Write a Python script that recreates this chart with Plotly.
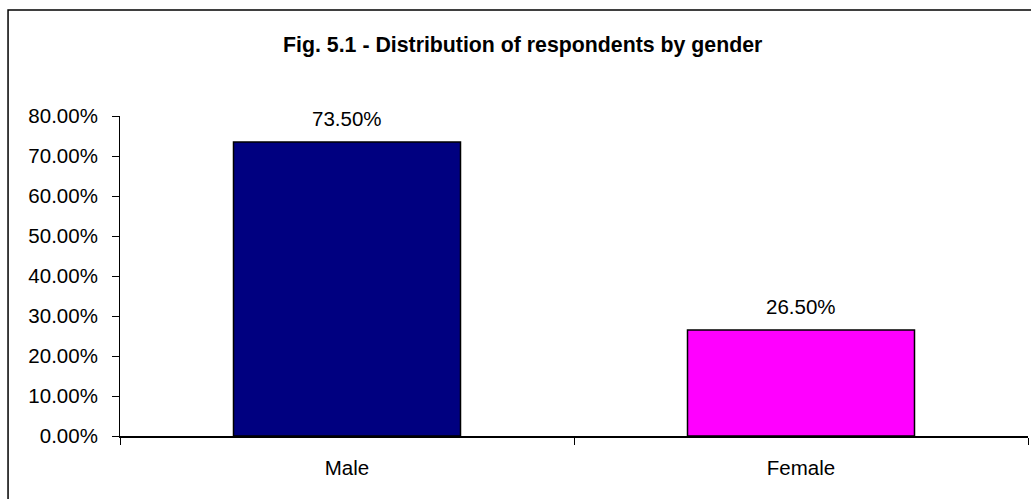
import plotly.graph_objects as go

# Respondent shares by gender
categories = ["Male", "Female"]
shares = [0.735, 0.265]
bar_colors = ["#000080", "#FF00FF"]
y_ticks = [0.0, 0.1, 0.2, 0.3, 0.4, 0.5, 0.6, 0.7, 0.8]

FONT = "Liberation Sans, Arial, sans-serif"

fig = go.Figure(
    go.Bar(
        x=categories,
        y=shares,
        marker=dict(color=bar_colors, line=dict(color="black", width=1.5)),
        hoverinfo="skip",
    )
)

# value labels above each bar
for cat, val in zip(categories, shares):
    fig.add_annotation(
        x=cat, y=val, text=f"{val:.2%}", showarrow=False,
        yanchor="middle", yshift=24,
        font=dict(family=FONT, size=20.5, color="black"),
    )

# outer chart frame
fig.add_shape(
    type="rect", xref="paper", yref="paper",
    x0=-0.1233, x1=1.02, y0=-0.25, y1=1.33125,
    line=dict(color="black", width=1.5), fillcolor="rgba(0,0,0,0)",
)

fig.update_layout(
    width=1031, height=499,
    margin=dict(l=120, r=3, t=116, b=63),
    paper_bgcolor="white", plot_bgcolor="white",
    bargap=0.5,
    showlegend=False,
    title=dict(
        text="<b>Fig. 5.1 - Distribution of respondents by gender</b>",
        x=0.507, xanchor="center", y=1 - 45 / 499, yanchor="middle",
        font=dict(family=FONT, size=21.3, color="black"),
    ),
    xaxis=dict(
        range=[-0.5, 1.5],
        showline=True, linecolor="black", linewidth=1.5,
        ticks="outside", tickson="boundaries", ticklen=7,
        tickcolor="black", tickwidth=1,
        ticklabelstandoff=13,
        showgrid=False, zeroline=False,
        tickfont=dict(family=FONT, size=20.5, color="black"),
        fixedrange=True,
    ),
    yaxis=dict(
        range=[0, 0.8],
        tickvals=y_ticks, tickformat=".2%",
        showline=True, linecolor="black", linewidth=1,
        ticks="outside", ticklen=7, tickcolor="black", tickwidth=1,
        ticklabelstandoff=10,
        showgrid=False, zeroline=False,
        tickfont=dict(family=FONT, size=20.5, color="black"),
        fixedrange=True,
    ),
)

fig.write_html("out.html", config={"displayModeBar": False})
